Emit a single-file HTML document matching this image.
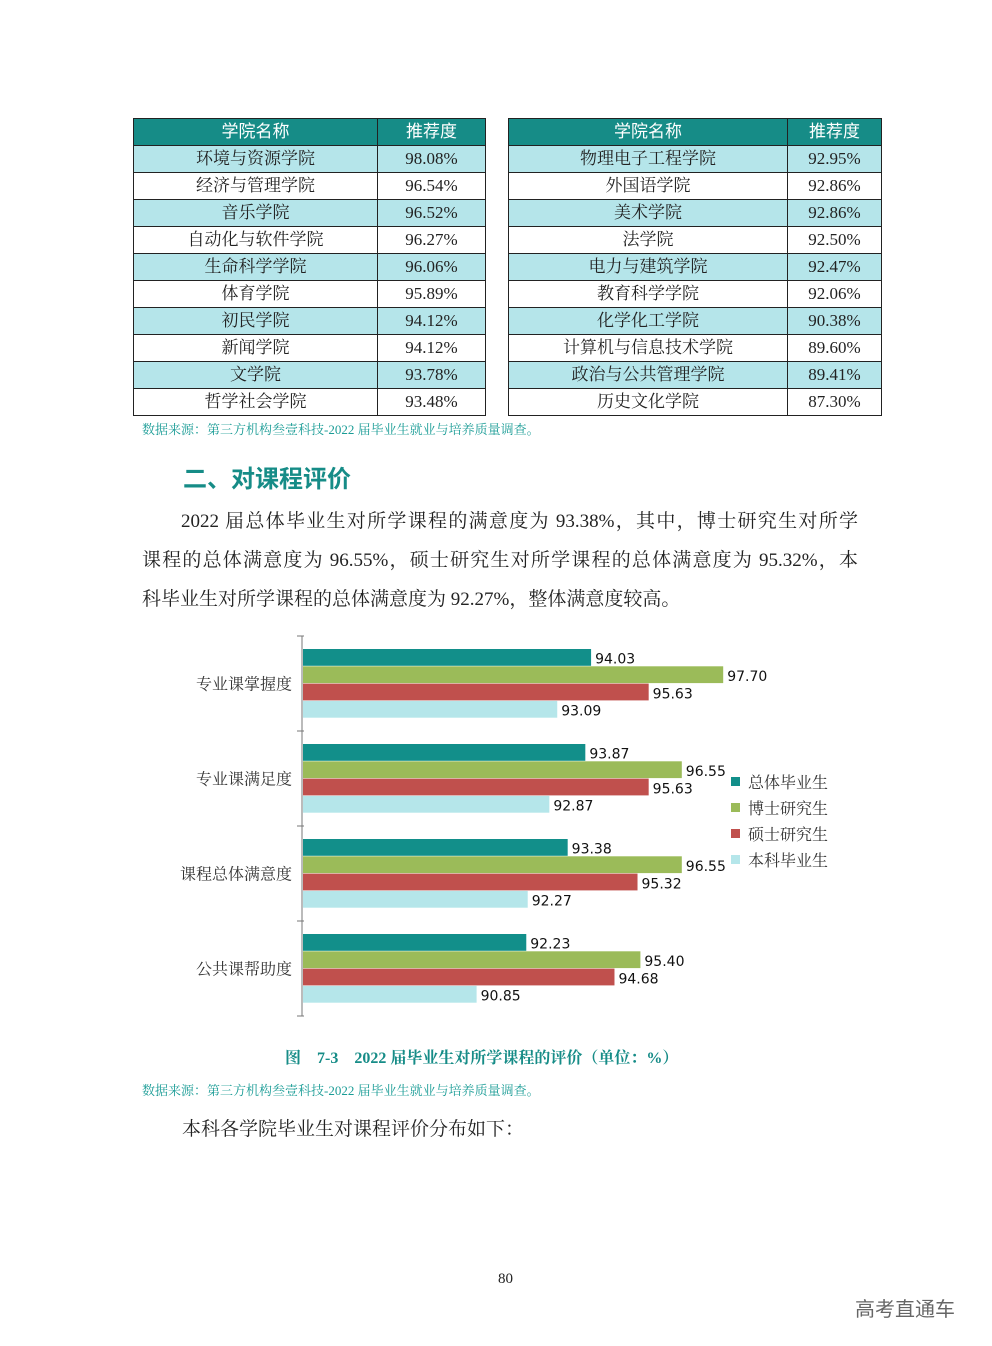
<!DOCTYPE html>
<html><head><meta charset="utf-8">
<style>
body{margin:0;width:992px;height:1346px;background:#fff;position:relative;font-family:"Liberation Serif","Noto Serif CJK SC",serif;color:#222;overflow:hidden}
table{position:absolute;border-collapse:collapse;font-size:17px}
td,th{border:1px solid #222;text-align:center;padding:0;height:26px;line-height:26px}
th{background:#168c87;color:#fff;font-weight:normal;font-family:"Liberation Sans","Noto Sans CJK SC",sans-serif}
tr.a td{background:#b5e5ea}
.src{position:absolute;left:142px;font-size:13px;color:#1a9c96}
.ln{position:absolute;font-size:19px;line-height:39px;height:39px;white-space:nowrap;text-align:justify;text-align-last:justify}
</style></head><body>
<table style="left:133px;top:118px;width:353px">
<tr><th style="width:243px">学院名称</th><th>推荐度</th></tr>
<tr class="a"><td>环境与资源学院</td><td>98.08%</td></tr>
<tr><td>经济与管理学院</td><td>96.54%</td></tr>
<tr class="a"><td>音乐学院</td><td>96.52%</td></tr>
<tr><td>自动化与软件学院</td><td>96.27%</td></tr>
<tr class="a"><td>生命科学学院</td><td>96.06%</td></tr>
<tr><td>体育学院</td><td>95.89%</td></tr>
<tr class="a"><td>初民学院</td><td>94.12%</td></tr>
<tr><td>新闻学院</td><td>94.12%</td></tr>
<tr class="a"><td>文学院</td><td>93.78%</td></tr>
<tr><td>哲学社会学院</td><td>93.48%</td></tr>
</table>
<table style="left:508px;top:118px;width:374px">
<tr><th style="width:278px">学院名称</th><th>推荐度</th></tr>
<tr class="a"><td>物理电子工程学院</td><td>92.95%</td></tr>
<tr><td>外国语学院</td><td>92.86%</td></tr>
<tr class="a"><td>美术学院</td><td>92.86%</td></tr>
<tr><td>法学院</td><td>92.50%</td></tr>
<tr class="a"><td>电力与建筑学院</td><td>92.47%</td></tr>
<tr><td>教育科学学院</td><td>92.06%</td></tr>
<tr class="a"><td>化学化工学院</td><td>90.38%</td></tr>
<tr><td>计算机与信息技术学院</td><td>89.60%</td></tr>
<tr class="a"><td>政治与公共管理学院</td><td>89.41%</td></tr>
<tr><td>历史文化学院</td><td>87.30%</td></tr>
</table>
<div class="src" style="top:419px">数据来源：第三方机构叁壹科技-2022 届毕业生就业与培养质量调查。</div>
<div style="position:absolute;left:183px;top:459px;font-size:24px;font-weight:bold;color:#168c87;font-family:'Liberation Sans','Noto Sans CJK SC',sans-serif">二、对课程评价</div>
<div>
<div class="ln" style="left:181px;top:502px;width:677px">2022 届总体毕业生对所学课程的满意度为 93.38%，其中，博士研究生对所学</div>
<div class="ln" style="left:142px;top:541px;width:716px">课程的总体满意度为 96.55%，硕士研究生对所学课程的总体满意度为 95.32%，本</div>
<div class="ln" style="left:142px;top:580px;text-align-last:left">科毕业生对所学课程的总体满意度为 92.27%，整体满意度较高。</div>
</div>
<svg id="chart" style="position:absolute;left:0;top:0" width="992" height="1346"></svg>
<div style="position:absolute;left:285px;top:1045px;font-size:16px;font-weight:bold;color:#168c87">图　7-3　2022 届毕业生对所学课程的评价（单位：%）</div>
<div class="src" style="top:1080px">数据来源：第三方机构叁壹科技-2022 届毕业生就业与培养质量调查。</div>
<div style="position:absolute;left:182px;top:1110px;font-size:19px;line-height:39px">本科各学院毕业生对课程评价分布如下：</div>
<div style="position:absolute;left:498px;top:1271px;font-size:15px">80</div>
<div style="position:absolute;left:855px;top:1293px;font-size:20px;color:#666;font-family:'Liberation Sans','Noto Sans CJK SC',sans-serif">高考直通车</div>
<script>
const categories=["专业课掌握度","专业课满足度","课程总体满意度","公共课帮助度"];
const seriesNames=["总体毕业生","博士研究生","硕士研究生","本科毕业生"];
const total=[94.03,93.87,93.38,92.23];
const phd=[97.70,96.55,96.55,95.40];
const master=[95.63,95.63,95.32,94.68];
const bachelor=[93.09,92.87,92.27,90.85];
const colors=["#128f8a","#9bbb59","#c0504d","#b5e6ea"];
const series=[total,phd,master,bachelor];
const NS="http://www.w3.org/2000/svg";
const svg=document.getElementById('chart');
const x0=302,xMin=86,pxPer=36,top0=636,groupH=95,barH=17.3;
const xs=v=>x0+(v-xMin)*pxPer;
function mk(t,a){const e=document.createElementNS(NS,t);for(const k in a)e.setAttribute(k,a[k]);svg.appendChild(e);return e;}
const ax=mk('line',{x1:x0,y1:top0,x2:x0,y2:top0+groupH*categories.length,stroke:'#777'});


for(let i=0;i<=categories.length;i++){
 const t=mk('line',{x1:x0-5,y1:top0+i*groupH,x2:x0+2,y2:top0+i*groupH,stroke:'#777'});
 
 
}
categories.forEach((c,i)=>{
 const gy=top0+i*groupH;
 const lb=mk('text',{x:x0-10,y:gy+groupH/2+6,'text-anchor':'end','font-size':16,fill:'#333','font-family':'Liberation Serif, Noto Serif CJK SC, serif'});
 lb.textContent=c;
 
 
 series.forEach((s,j)=>{
  const y=gy+13+j*barH;
  const r=mk('rect',{x:x0+1,y:y,width:xs(s[i])-x0-1,height:barH-0.5,fill:colors[j]});
  
  
  const tx=mk('text',{x:xs(s[i])+4,y:y+barH/2+6,'font-size':14,fill:'#111','font-family':'DejaVu Sans, sans-serif'});
  tx.textContent=s[i].toFixed(2);
  
  
 });
});
seriesNames.forEach((n,j)=>{
 const y=775+j*26;
 const r=mk('rect',{x:731,y:y+2,width:9,height:9,fill:colors[j]});
 
 
 const t=mk('text',{x:748,y:y+13,'font-size':16,fill:'#333','font-family':'Liberation Serif, Noto Serif CJK SC, serif'});
 t.textContent=n;
 
 
});
</script>
</body></html>
